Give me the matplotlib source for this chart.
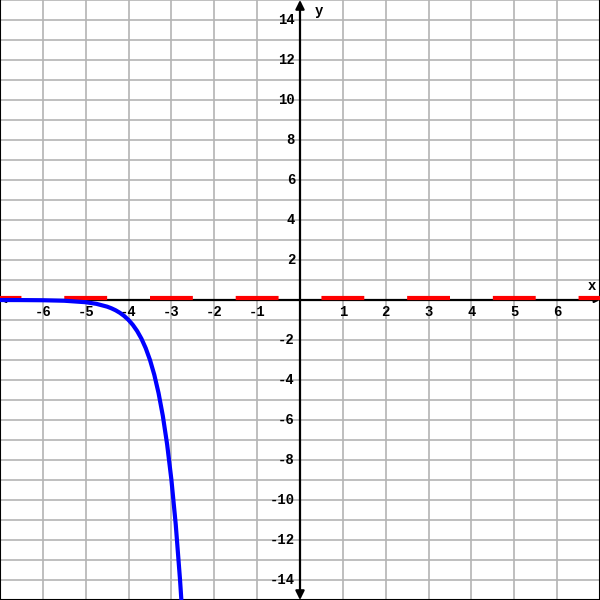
import matplotlib
matplotlib.use('Agg')
import matplotlib.pyplot as plt
from matplotlib.transforms import offset_copy

# points
curve_x = [-7.0, -6.5, -6.0, -5.5, -5.0, -4.75, -4.5, -4.4, -4.3, -4.2, -4.1, -4.0,
           -3.9, -3.8, -3.7, -3.6, -3.5, -3.4, -3.3, -3.2, -3.1, -3.0, -2.9, -2.8, -2.75]
curve_y = [-0.0014, -0.0041, -0.0123, -0.037, -0.111, -0.192, -0.333, -0.415, -0.517,
           -0.644, -0.803, -1.0, -1.246, -1.552, -1.933, -2.408, -3.0, -3.737, -4.656,
           -5.8, -7.225, -9.0, -11.21, -13.97, -15.59]

# horizontal asymptote
asym_x = [-7, 7]
asym_y = [0, 0]

x_ticks = [-6, -5, -4, -3, -2, -1, 1, 2, 3, 4, 5, 6]
y_ticks = [-14, -12, -10, -8, -6, -4, -2, 2, 4, 6, 8, 10, 12, 14]

fig = plt.figure(figsize=(6, 6), dpi=100)
ax = fig.add_axes([0, 0, 1, 1])
ax.set_xlim(-7, 7)
ax.set_ylim(-15, 15)

ax.set_xticks(range(-7, 8))
ax.set_yticks(range(-15, 16))
ax.grid(True, color='#b4b4b4', lw=1.2, zorder=0)
ax.tick_params(length=0, labelbottom=False, labelleft=False)
ax.spines['top'].set_visible(False)
for s in ['left', 'right', 'bottom']:
    ax.spines[s].set_color('black')
    ax.spines[s].set_linewidth(1.5)

# axes with arrows
arr = dict(arrowstyle='<|-|>', color='black', lw=1.6, mutation_scale=13,
           shrinkA=0, shrinkB=0)
ax.annotate('', xy=(0, 15), xytext=(0, -15), arrowprops=arr, zorder=3)
ax.annotate('', xy=(7, 0), xytext=(-7, 0),
            arrowprops=dict(arr, mutation_scale=7), zorder=3)

# red dashed asymptote, dash = gap = one x unit (dashes scale with lw)
lw_red = 3
unit_pt = 600 / 14 * 72 / 100
dash = unit_pt / lw_red
red_tr = offset_copy(ax.transData, fig=fig, x=0, y=2.5, units='dots')
ax.plot(asym_x, asym_y, color='#ff0000', lw=lw_red, ls=(dash * 0.5, (dash, dash)),
        dash_capstyle='butt', transform=red_tr, zorder=4)

ax.plot(curve_x, curve_y, color='#0000ff', lw=3, zorder=5)

font = dict(family=['Liberation Mono', 'DejaVu Sans Mono'], weight='bold', fontsize=10)
xt = offset_copy(ax.transData, fig=fig, x=0, y=-5, units='dots')
for v in x_ticks:
    ax.text(v, 0, str(v), transform=xt, ha='center', va='top', **font)
yt = offset_copy(ax.transData, fig=fig, x=-5, y=0, units='dots')
for v in y_ticks:
    ax.text(0, v, str(v), transform=yt, ha='right', va='center', **font)

ax.text(6.9, 0.35, 'x', ha='right', va='bottom', **font)
ax.text(0.45, 14.8, 'y', ha='center', va='top', **font)

fig.savefig('out.png', dpi=100)
